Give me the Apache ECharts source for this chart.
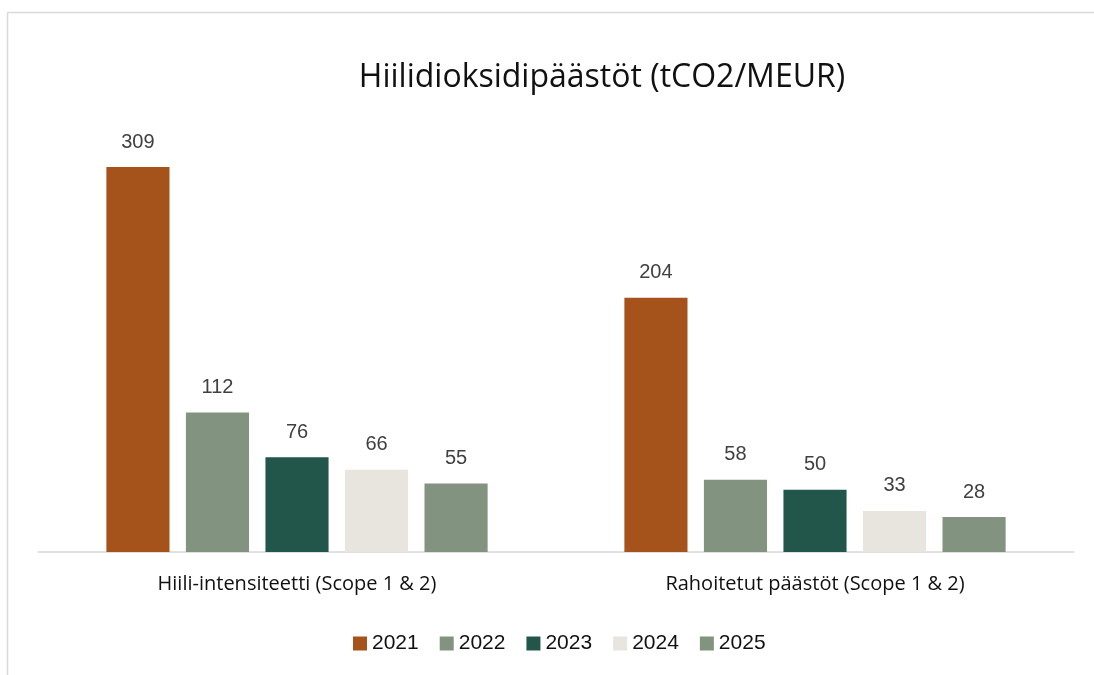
<!DOCTYPE html>
<html><head><meta charset="utf-8">
<script src="https://cdn.jsdelivr.net/npm/echarts@6/dist/echarts.min.js"></script>
<style>html,body{margin:0;padding:0;background:#fff}#c{width:1094px;height:675px}</style>
</head><body><div id="c"></div>
<script>
const categories = ['Hiili-intensiteetti (Scope 1 & 2)', 'Rahoitetut päästöt (Scope 1 & 2)'];
const years = ['2021', '2022', '2023', '2024', '2025'];
const v2021 = [309, 204];
const v2022 = [112, 58];
const v2023 = [76, 50];
const v2024 = [66, 33];
const v2025 = [55, 28];
const seriesValues = [v2021, v2022, v2023, v2024, v2025];
const colors = ['#A5521B', '#82937F', '#22564A', '#E8E4DE', '#82937F'];

const chart = echarts.init(document.getElementById('c'));
chart.setOption({
  animation: false,
  title: {
    text: 'Hiilidioksidipäästöt (tCO2/MEUR)',
    left: 597, top: 57, textAlign: 'center',
    textStyle: { fontFamily: 'Open Sans', fontSize: 32, fontWeight: 'normal', color: '#111' }
  },
  graphic: [
    { type: 'line', shape: { x1: 7.5, y1: 12.5, x2: 1094, y2: 12.5 }, style: { stroke: '#d9d9d9', lineWidth: 1.5 } },
    { type: 'line', shape: { x1: 7.5, y1: 12.5, x2: 7.5, y2: 675 }, style: { stroke: '#d9d9d9', lineWidth: 1.5 } }
  ],
  legend: {
    data: years, top: 628, left: 348, itemWidth: 14, itemHeight: 14, itemGap: 21,
    icon: 'rect',
    textStyle: { fontFamily: 'Liberation Sans', fontSize: 21, color: '#111' }
  },
  grid: { left: 38, right: 20, top: 116, bottom: 123 },
  xAxis: {
    type: 'category', data: categories,
    axisLine: { lineStyle: { color: '#d9d9d9', width: 1.5 } },
    axisTick: { show: false },
    axisLabel: { fontFamily: 'Open Sans', fontSize: 20, color: '#111', margin: 22 }
  },
  yAxis: { type: 'value', min: 0, max: 350, show: false, splitLine: { show: false } },
  series: seriesValues.map((vals, i) => ({
    name: years[i], type: 'bar', data: vals,
    barGap: '26%', barCategoryGap: '26.4%',
    itemStyle: { color: colors[i] },
    label: { show: true, position: 'top', distance: 15, fontFamily: 'Liberation Sans', fontSize: 20, color: '#404040' }
  }))
});
</script></body></html>
